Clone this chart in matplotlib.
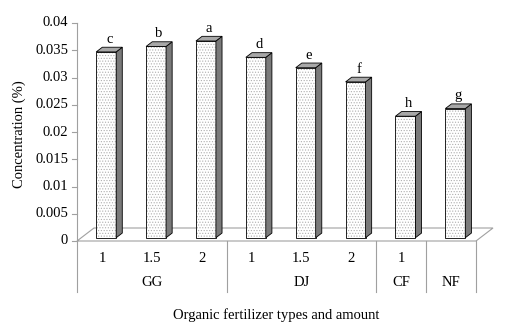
import numpy as np
import matplotlib
matplotlib.use('Agg')
import matplotlib.pyplot as plt
from matplotlib.patches import Polygon, Rectangle

plt.rcParams['font.family'] = ['Liberation Serif', 'DejaVu Serif']
plt.rcParams['hatch.linewidth'] = 0.5

# data
levels = ['1', '1.5', '2', '1', '1.5', '2', '1', '']
groups = ['GG', 'DJ', 'CF', 'NF']
group_sizes = [3, 3, 1, 1]
values = [0.0341, 0.0351, 0.0361, 0.0331, 0.0312, 0.0286, 0.0223, 0.0237]
letters = ['c', 'b', 'a', 'd', 'e', 'f', 'h', 'g']
yticks = [0, 0.005, 0.01, 0.015, 0.02, 0.025, 0.03, 0.035, 0.04]
yticklabels = ['0', '0.005', '0.01', '0.015', '0.02', '0.025', '0.03', '0.035', '0.04']

W, H = 506, 334
fs = 10.5
fig = plt.figure(figsize=(W / 100, H / 100), dpi=100)
ax = fig.add_axes([77 / W, 1 - 241 / H, (476 - 77) / W, (241 - 23) / H])
ax.set_xlim(0, 8)
ax.set_ylim(0, 0.04)
ax.axis('off')

px_x = 8 / (476 - 77)
px_y = 0.04 / (241 - 23)
DX = 17 * px_x      # floor depth offset
DY = 13 * px_y
f0 = 0.25           # bar front depth fraction
fd = 0.36           # bar depth fraction
bw = 0.40           # bar width

gray = '#a0a0a0'

# floor
floor = Polygon([(0, 0), (8, 0), (8 + DX, DY), (DX, DY)], closed=True,
                facecolor='none', edgecolor=gray, lw=0.8, clip_on=False)
ax.add_patch(floor)

# y axis
ax.plot([0, 0], [0, 0.04], color=gray, lw=0.8, clip_on=False)
for t, lab in zip(yticks, yticklabels):
    ax.plot([-5 * px_x, 0], [t, t], color=gray, lw=0.8, clip_on=False)
    ax.text(-9 * px_x, t, lab, ha='right', va='center', fontsize=fs)

# category table below
y_bot = -51 * px_y
bounds = np.concatenate([[0], np.cumsum(group_sizes)])
for b in bounds:
    ax.plot([b, b], [0, y_bot], color=gray, lw=0.8, clip_on=False)
for i, lab in enumerate(levels):
    ax.text(i + 0.5, -18 * px_y, lab, ha='center', va='center', fontsize=fs)
for g, a, b in zip(groups, bounds[:-1], bounds[1:]):
    ax.text((a + b) / 2, -42 * px_y, g, ha='center', va='center', fontsize=fs)

# bars
for i, v in enumerate(values):
    xl = i + 0.5 - bw / 2 + f0 * DX
    xr = xl + bw
    y0 = f0 * DY
    y1 = y0 + v
    ddx, ddy = fd * DX, fd * DY
    # front face with dot pattern
    ax.add_patch(Rectangle((xl, y0), bw, v, facecolor='white', edgecolor='#b0b0b0',
                           hatch='......', lw=0, clip_on=False))
    ax.add_patch(Rectangle((xl, y0), bw, v, facecolor='none', edgecolor='black',
                           lw=0.6, clip_on=False))
    # side face
    ax.add_patch(Polygon([(xr, y0), (xr + ddx, y0 + ddy), (xr + ddx, y1 + ddy), (xr, y1)],
                         closed=True, facecolor='#7a7a7a', edgecolor='black', lw=0.6,
                         clip_on=False))
    # top face
    ax.add_patch(Polygon([(xl, y1), (xl + ddx, y1 + ddy), (xr + ddx, y1 + ddy), (xr, y1)],
                         closed=True, facecolor='#a8a8a8', edgecolor='black', lw=0.6,
                         clip_on=False))
    ax.text((xl + xr + ddx) / 2, y1 + ddy + 1.5 * px_y, letters[i], ha='center', va='bottom',
            fontsize=fs)

ax.text(-58 * px_x, 0.0196, 'Concentration (%)', rotation=90,
        ha='center', va='center', fontsize=fs)
ax.text(4.0, -74 * px_y, 'Organic fertilizer types and amount',
        ha='center', va='center', fontsize=fs)

fig.savefig('out.png', dpi=100)
